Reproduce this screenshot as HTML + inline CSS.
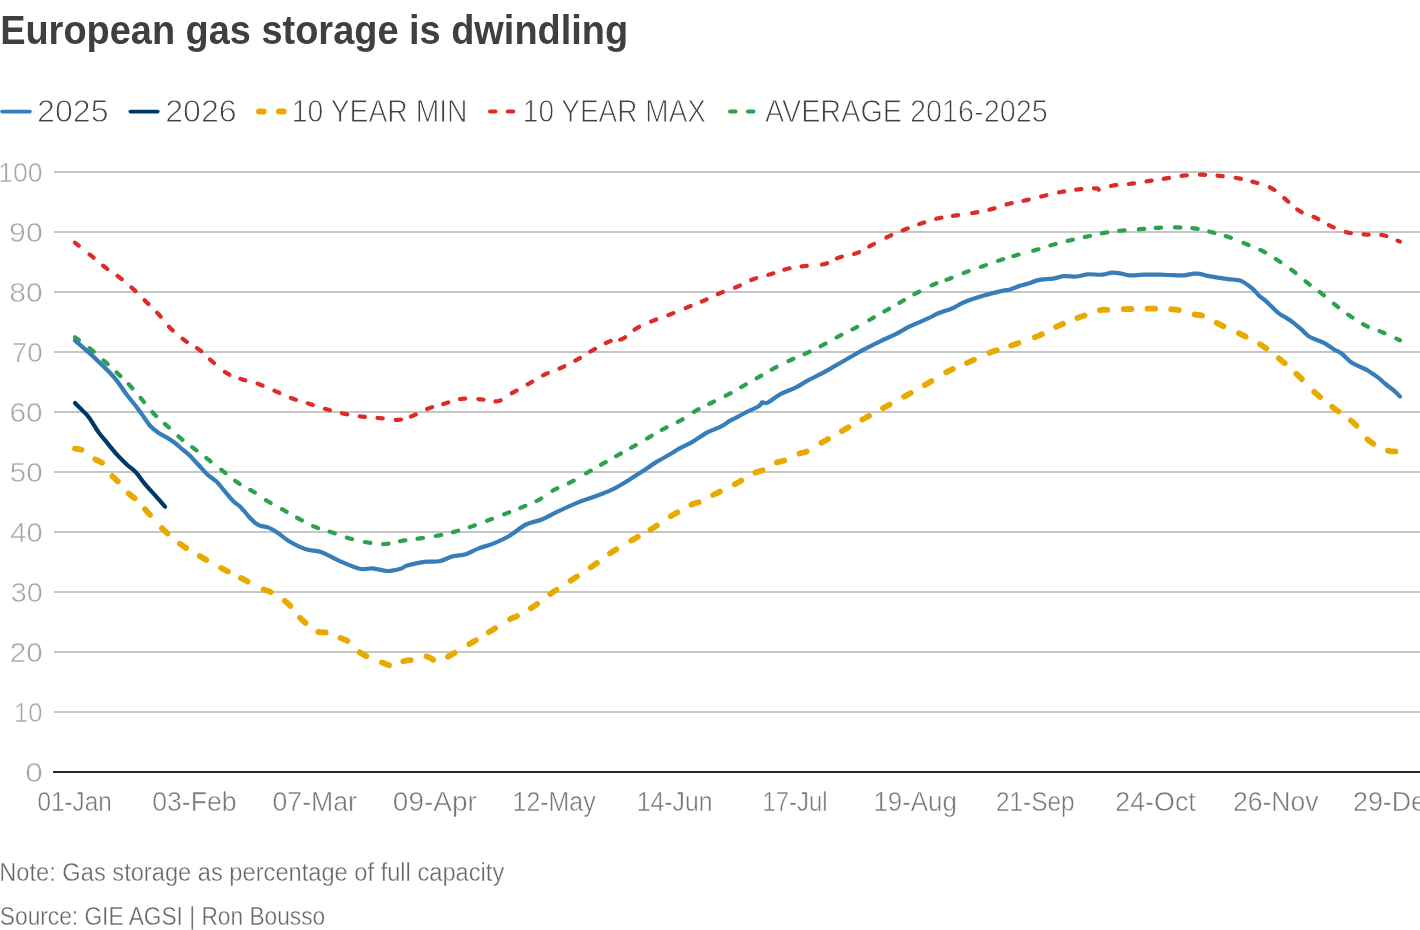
<!DOCTYPE html>
<html><head><meta charset="utf-8"><style>
html,body{margin:0;padding:0;background:#fff;}
body{width:1420px;height:930px;overflow:hidden;}
svg{display:block;will-change:transform;}
text{font-family:"Liberation Sans",sans-serif;}
</style></head><body>
<svg width="1420" height="930" viewBox="0 0 1420 930">
<rect width="1420" height="930" fill="#fff"/>
<g font-size="40" font-weight="bold" fill="#3f3f3f"><text x="0.16" y="44.00" textLength="627.97" lengthAdjust="spacingAndGlyphs">European gas storage is dwindling</text></g>
<g stroke-linecap="round" fill="none">
<line x1="2" y1="111.6" x2="30" y2="111.6" stroke="#377db9" stroke-width="3.6"/>
<line x1="130.3" y1="111.6" x2="157.8" y2="111.6" stroke="#003868" stroke-width="3.6"/>
<line x1="259" y1="111.6" x2="286" y2="111.6" stroke="#e9aa00" stroke-width="6" stroke-dasharray="4.7 15.3"/>
<line x1="490" y1="111.6" x2="514" y2="111.6" stroke="#dd2b28" stroke-width="4" stroke-dasharray="5.5 12.3"/>
<line x1="730" y1="111.6" x2="754" y2="111.6" stroke="#2ca24d" stroke-width="4" stroke-dasharray="5.6 12.3"/>
</g>
<g font-size="31.83" fill="#404040" stroke="#fff" stroke-width="0.9"><text x="37.13" y="122.25" textLength="71.46" lengthAdjust="spacingAndGlyphs">2025</text><text x="165.23" y="122.25" textLength="71.53" lengthAdjust="spacingAndGlyphs">2026</text><text x="291.80" y="122.25" textLength="175.75" lengthAdjust="spacingAndGlyphs">10 YEAR MIN</text><text x="522.82" y="122.25" textLength="183.21" lengthAdjust="spacingAndGlyphs">10 YEAR MAX</text><text x="764.89" y="122.25" textLength="282.86" lengthAdjust="spacingAndGlyphs">AVERAGE 2016-2025</text></g>
<g stroke="#c6c6c6" stroke-width="2"><line x1="54" y1="172" x2="1420" y2="172"/><line x1="54" y1="232" x2="1420" y2="232"/><line x1="54" y1="292" x2="1420" y2="292"/><line x1="54" y1="352" x2="1420" y2="352"/><line x1="54" y1="412" x2="1420" y2="412"/><line x1="54" y1="472" x2="1420" y2="472"/><line x1="54" y1="532" x2="1420" y2="532"/><line x1="54" y1="592" x2="1420" y2="592"/><line x1="54" y1="652" x2="1420" y2="652"/><line x1="54" y1="712" x2="1420" y2="712"/></g>
<line x1="53" y1="772" x2="1420" y2="772" stroke="#2a2a2a" stroke-width="2"/>
<g font-size="27.43" fill="#a6a6a6" stroke="#fff" stroke-width="0.5"><text x="25.22" y="781.85" textLength="17.57" lengthAdjust="spacingAndGlyphs">0</text><text x="14.10" y="721.85" textLength="28.45" lengthAdjust="spacingAndGlyphs">10</text><text x="9.76" y="661.85" textLength="32.95" lengthAdjust="spacingAndGlyphs">20</text><text x="10.65" y="601.85" textLength="32.02" lengthAdjust="spacingAndGlyphs">30</text><text x="10.28" y="541.85" textLength="32.41" lengthAdjust="spacingAndGlyphs">40</text><text x="9.76" y="481.85" textLength="32.94" lengthAdjust="spacingAndGlyphs">50</text><text x="9.43" y="421.85" textLength="33.29" lengthAdjust="spacingAndGlyphs">60</text><text x="11.83" y="361.85" textLength="30.80" lengthAdjust="spacingAndGlyphs">70</text><text x="9.24" y="301.85" textLength="33.48" lengthAdjust="spacingAndGlyphs">80</text><text x="9.13" y="241.85" textLength="33.60" lengthAdjust="spacingAndGlyphs">90</text><text x="-1.78" y="181.85" textLength="44.36" lengthAdjust="spacingAndGlyphs">100</text></g>
<g font-size="27.76" fill="#777777" stroke="#fff" stroke-width="0.5"><text x="37.40" y="810.85" textLength="74.33" lengthAdjust="spacingAndGlyphs">01-Jan</text><text x="152.21" y="810.85" textLength="84.36" lengthAdjust="spacingAndGlyphs">03-Feb</text><text x="272.51" y="810.85" textLength="84.48" lengthAdjust="spacingAndGlyphs">07-Mar</text><text x="392.86" y="810.85" textLength="83.96" lengthAdjust="spacingAndGlyphs">09-Apr</text><text x="512.55" y="810.85" textLength="83.05" lengthAdjust="spacingAndGlyphs">12-May</text><text x="636.76" y="810.85" textLength="75.80" lengthAdjust="spacingAndGlyphs">14-Jun</text><text x="762.53" y="810.85" textLength="65.02" lengthAdjust="spacingAndGlyphs">17-Jul</text><text x="873.38" y="810.85" textLength="83.54" lengthAdjust="spacingAndGlyphs">19-Aug</text><text x="995.92" y="810.85" textLength="78.75" lengthAdjust="spacingAndGlyphs">21-Sep</text><text x="1115.30" y="810.85" textLength="80.44" lengthAdjust="spacingAndGlyphs">24-Oct</text><text x="1232.92" y="810.85" textLength="85.52" lengthAdjust="spacingAndGlyphs">26-Nov</text><text x="1353.00" y="810.85" textLength="86.46" lengthAdjust="spacingAndGlyphs">29-Dec</text></g>
<g fill="none" stroke-linejoin="round" stroke-linecap="round">
<path d="M75.0 448.6L76.1 448.8L77.2 448.9L78.3 449.0L79.4 449.2L80.4 449.5L81.5 449.8M95.2 459.3L96.1 459.8L97.1 460.3L98.1 460.7L99.1 461.2L100.1 461.7L101.0 462.2L102.0 462.8M112.4 476.2L113.1 476.9L113.9 477.7L114.7 478.4L115.5 479.2L116.3 479.9L117.1 480.7L117.9 481.4M128.7 493.5L129.5 494.2L130.3 494.9L131.2 495.6L132.0 496.3L132.9 496.9L133.7 497.6L134.6 498.3M145.0 509.2L145.7 510.0L146.4 510.8L147.1 511.7L147.9 512.5L148.6 513.3L149.3 514.1L150.0 514.9M162.0 528.2L162.8 529.0L163.5 529.7L164.3 530.5L165.1 531.3L165.9 532.0L166.7 532.7L167.5 533.5M179.9 543.7L180.8 544.3L181.7 544.9L182.6 545.6L183.4 546.2L184.3 546.8L185.2 547.4L186.1 548.0M199.7 556.1L200.6 556.7L201.6 557.2L202.5 557.8L203.5 558.3L204.4 558.8L205.4 559.4L206.3 559.9M221.1 568.0L222.1 568.5L223.1 569.0L224.0 569.5L225.0 570.0L225.9 570.5L226.9 571.0L227.9 571.5M240.9 578.0L241.9 578.4L242.9 578.9L243.8 579.4L244.8 579.9L245.7 580.4L246.7 581.0L247.6 581.5M263.6 589.5L264.6 589.9L265.6 590.2L266.7 590.5L267.7 590.8L268.7 591.2L269.7 591.6L270.7 592.1M284.7 600.8L285.5 601.5L286.4 602.1L287.2 602.8L288.0 603.6L288.8 604.3L289.5 605.1L290.3 605.9M300.0 617.8L300.8 618.6L301.5 619.3L302.3 620.1L303.1 620.8L303.9 621.5L304.7 622.3L305.5 623.0M318.3 631.9L319.3 632.2L320.4 632.4L321.5 632.4L322.5 632.4L323.6 632.4L324.7 632.4L325.8 632.5M340.5 637.9L341.5 638.3L342.5 638.7L343.5 639.1L344.5 639.5L345.5 639.9L346.5 640.3L347.4 640.9M359.7 652.4L360.6 653.0L361.5 653.6L362.4 654.2L363.4 654.7L364.3 655.2L365.3 655.7L366.3 656.2M382.0 662.5L383.0 662.9L384.0 663.3L385.0 663.7L386.0 664.1L387.0 664.5L388.0 664.9L389.1 665.2M403.3 661.3L404.3 661.0L405.4 660.8L406.5 660.5L407.5 660.4L408.6 660.3L409.7 660.2L410.8 660.1M426.5 656.4L427.5 656.7L428.5 657.1L429.5 657.6L430.5 658.0L431.4 658.6L432.3 659.2L433.2 659.8M447.9 656.7L448.8 656.2L449.8 655.7L450.7 655.1L451.7 654.6L452.6 654.0L453.5 653.5L454.5 652.9M469.4 644.1L470.4 643.6L471.3 643.0L472.2 642.4L473.2 641.9L474.1 641.3L475.0 640.7L475.9 640.2M488.8 632.2L489.7 631.7L490.6 631.1L491.5 630.5L492.5 630.0L493.4 629.4L494.3 628.8L495.2 628.3M510.1 619.2L511.1 618.7L512.0 618.1L513.0 617.7L514.0 617.3L515.1 617.0L516.1 616.6L517.0 616.1M530.8 608.2L531.7 607.7L532.6 607.1L533.5 606.5L534.5 605.9L535.4 605.3L536.2 604.7L537.1 604.0M550.2 594.0L551.1 593.4L552.0 592.8L552.9 592.2L553.7 591.6L554.6 591.0L555.6 590.4L556.5 589.8M570.6 580.6L571.5 580.1L572.4 579.5L573.3 578.9L574.3 578.3L575.2 577.7L576.1 577.1L577.0 576.5M590.7 567.4L591.6 566.8L592.5 566.2L593.4 565.5L594.2 564.9L595.1 564.3L596.0 563.6L596.9 563.0M609.9 553.4L610.8 552.8L611.7 552.2L612.6 551.6L613.6 551.0L614.5 550.4L615.4 549.9L616.3 549.3M631.2 540.7L632.1 540.1L633.1 539.6L634.0 539.1L635.0 538.5L635.9 538.0L636.8 537.4L637.8 536.9M650.5 529.6L651.4 529.1L652.3 528.5L653.2 527.9L654.2 527.3L655.1 526.7L656.0 526.1L656.9 525.5M670.8 516.1L671.8 515.6L672.7 515.0L673.6 514.5L674.6 513.9L675.5 513.4L676.5 512.9L677.4 512.3M691.5 504.7L692.5 504.2L693.5 503.8L694.5 503.4L695.5 503.0L696.6 502.9L697.7 502.7L698.7 502.3M713.1 495.0L714.1 494.5L715.0 494.0L716.0 493.6L717.0 493.1L718.0 492.6L718.9 492.1L719.9 491.6M734.7 484.3L735.6 483.8L736.6 483.3L737.5 482.8L738.5 482.2L739.4 481.7L740.4 481.2L741.3 480.6M755.5 472.7L756.4 472.3L757.5 471.9L758.5 471.5L759.5 471.2L760.6 471.0L761.6 470.6L762.6 470.2M776.9 462.5L777.9 462.1L778.9 461.8L780.0 461.6L781.0 461.3L782.1 461.1L783.1 460.8L784.2 460.4M799.4 453.6L800.5 453.2L801.5 452.9L802.6 452.7L803.6 452.5L804.7 452.2L805.7 451.9L806.7 451.5M821.4 442.8L822.4 442.3L823.3 441.8L824.2 441.2L825.2 440.7L826.1 440.1L827.0 439.6L828.0 439.0M841.9 431.0L842.8 430.5L843.8 430.0L844.7 429.4L845.7 428.9L846.6 428.3L847.6 427.8L848.5 427.3M862.4 419.5L863.3 419.0L864.3 418.5L865.2 418.0L866.2 417.4L867.1 416.9L868.1 416.4L869.0 415.9M883.0 408.2L883.9 407.7L884.9 407.2L885.8 406.7L886.8 406.2L887.7 405.6L888.7 405.1L889.6 404.6M904.1 396.7L905.0 396.1L906.0 395.6L906.9 395.1L907.9 394.6L908.8 394.0L909.8 393.5L910.7 393.0M924.9 385.1L925.9 384.5L926.8 384.0L927.7 383.4L928.7 382.9L929.6 382.3L930.5 381.7L931.4 381.1M946.1 372.3L947.1 371.8L948.0 371.3L949.0 370.8L950.0 370.3L951.0 369.9L952.0 369.4L952.9 369.0M967.0 362.9L968.0 362.5L969.0 362.0L970.0 361.6L971.0 361.1L972.0 360.7L973.0 360.2L973.9 359.7M989.5 352.7L990.6 352.3L991.6 352.0L992.6 351.6L993.6 351.2L994.6 350.9L995.7 350.5L996.7 350.2M1011.2 345.6L1012.2 345.2L1013.3 344.9L1014.3 344.5L1015.3 344.2L1016.3 343.8L1017.4 343.5L1018.4 343.1M1034.9 337.3L1035.9 336.9L1036.9 336.5L1037.9 336.0L1038.9 335.6L1039.9 335.2L1040.9 334.7L1041.9 334.3M1056.1 326.9L1057.0 326.5L1058.0 326.0L1059.0 325.5L1060.0 325.1L1061.0 324.6L1062.0 324.2L1063.0 323.8M1077.4 318.0L1078.5 317.6L1079.5 317.3L1080.5 316.9L1081.5 316.5L1082.5 316.1L1083.5 315.8L1084.6 315.4M1099.8 310.3L1100.8 310.1L1101.9 309.8L1103.0 309.6L1104.0 309.7L1105.1 309.8L1106.2 309.8L1107.3 309.8M1123.8 309.2L1124.9 309.1L1126.0 309.1L1127.1 309.1L1128.1 309.0L1129.2 309.0L1130.3 309.0L1131.4 309.0M1147.5 308.7L1148.6 308.7L1149.7 308.7L1150.8 308.7L1151.8 308.7L1152.9 308.7L1154.0 308.7L1155.1 308.7M1171.2 309.2L1172.3 309.3L1173.4 309.4L1174.5 309.5L1175.5 309.6L1176.6 309.7L1177.7 309.9L1178.8 310.1M1194.6 314.4L1195.6 314.7L1196.7 314.8L1197.8 315.0L1198.8 315.0L1199.9 315.1L1201.0 315.2L1202.1 315.5M1216.7 322.9L1217.7 323.4L1218.6 323.9L1219.6 324.3L1220.6 324.8L1221.6 325.3L1222.6 325.7L1223.5 326.2M1238.8 333.2L1239.8 333.7L1240.7 334.2L1241.7 334.7L1242.7 335.1L1243.7 335.6L1244.6 336.1L1245.6 336.6M1260.0 344.2L1260.9 344.8L1261.8 345.3L1262.7 345.9L1263.7 346.5L1264.5 347.1L1265.4 347.8L1266.3 348.4M1278.9 358.4L1279.7 359.1L1280.6 359.8L1281.4 360.5L1282.2 361.2L1283.0 361.9L1283.9 362.6L1284.7 363.3M1296.3 373.8L1297.1 374.5L1297.9 375.3L1298.7 376.0L1299.5 376.8L1300.3 377.5L1301.0 378.3L1301.8 379.1M1314.3 391.9L1315.1 392.7L1315.9 393.4L1316.7 394.1L1317.5 394.8L1318.3 395.5L1319.1 396.3L1320.0 397.0M1332.3 406.9L1333.2 407.5L1334.0 408.2L1334.9 408.9L1335.7 409.5L1336.6 410.2L1337.5 410.8L1338.4 411.4M1350.9 420.5L1351.8 421.2L1352.6 421.9L1353.4 422.6L1354.2 423.4L1355.0 424.1L1355.7 424.9L1356.4 425.7M1367.4 439.2L1368.2 439.9L1369.0 440.7L1369.9 441.3L1370.7 442.0L1371.6 442.6L1372.5 443.2L1373.4 443.8M1387.9 450.6L1388.9 450.9L1390.0 451.1L1391.1 451.3L1392.1 451.4L1393.2 451.4L1394.3 451.4L1395.4 451.4" stroke="#e9aa00" stroke-width="5.8"/>
<path d="M75.0 242.6L75.9 243.3L76.8 244.1L77.7 244.8L78.7 245.6M89.5 254.4L90.4 255.0L91.2 255.7L92.0 256.4L92.8 257.0L93.6 257.7M103.1 265.7L103.9 266.3L104.8 267.0L105.6 267.6L106.5 268.3L107.3 268.9M117.5 276.0L118.3 276.6L119.2 277.2L120.0 277.9L120.9 278.5L121.7 279.2M131.5 287.5L132.3 288.2L133.1 288.9L133.9 289.6L134.7 290.3L135.4 291.1M144.6 300.3L145.4 301.1L146.1 301.8L146.9 302.6L147.6 303.3L148.4 304.1M157.1 312.7L157.8 313.4L158.5 314.2L159.3 315.0L160.0 315.8L160.7 316.6M169.0 326.7L169.7 327.5L170.4 328.2L171.2 329.0L171.9 329.7L172.7 330.4M182.6 338.8L183.4 339.4L184.3 340.1L185.1 340.7L186.0 341.3L186.9 341.9M196.9 348.1L197.8 348.7L198.7 349.3L199.5 349.9L200.4 350.5L201.2 351.2M210.0 359.5L210.8 360.2L211.6 360.9L212.4 361.6L213.2 362.3L214.0 363.0M224.9 372.0L225.8 372.6L226.7 373.2L227.6 373.7L228.5 374.2L229.4 374.7M240.3 378.8L241.3 379.1L242.3 379.4L243.3 379.8L244.3 380.1L245.3 380.3M257.6 383.6L258.6 384.0L259.6 384.4L260.6 384.8L261.6 385.2L262.6 385.6M274.5 390.8L275.4 391.2L276.4 391.6L277.4 392.0L278.4 392.4L279.3 392.9M290.9 397.9L291.9 398.3L292.9 398.7L293.9 399.0L294.9 399.4L295.9 399.7M307.7 403.3L308.7 403.6L309.7 403.9L310.7 404.3L311.7 404.6L312.7 404.9M324.9 408.8L325.9 409.1L326.9 409.4L327.9 409.6L328.9 409.9L330.0 410.2M342.0 413.2L343.0 413.5L344.1 413.7L345.1 413.9L346.2 414.1L347.2 414.3M359.7 416.3L360.7 416.5L361.8 416.6L362.8 416.7L363.9 416.8L364.9 416.9M377.5 417.9L378.5 418.0L379.6 418.1L380.6 418.1L381.7 418.3L382.7 418.4M395.8 419.9L396.8 419.9L397.9 419.8L398.9 419.8L400.0 419.6L401.0 419.5M410.9 416.5L411.9 416.1L412.9 415.7L413.9 415.3L414.9 414.9L415.8 414.5M427.1 409.0L428.1 408.6L429.1 408.2L430.1 407.8L431.1 407.5L432.1 407.1M443.2 404.0L444.2 403.7L445.2 403.4L446.2 403.0L447.2 402.7L448.2 402.4M460.0 399.1L461.0 399.0L462.1 398.8L463.1 398.7L464.2 398.7L465.2 398.6M478.3 399.2L479.3 399.3L480.4 399.4L481.4 399.4L482.5 399.5L483.5 399.7M495.5 401.4L496.5 401.3L497.6 401.2L498.6 401.0L499.6 400.7L500.6 400.3M511.9 393.2L512.8 392.7L513.7 392.1L514.7 391.6L515.6 391.1L516.5 390.6M527.6 384.3L528.5 383.8L529.4 383.3L530.4 382.8L531.3 382.2L532.2 381.7M543.0 375.4L544.0 374.9L544.9 374.4L545.9 374.0L546.8 373.5L547.8 373.1M559.5 368.5L560.4 368.1L561.4 367.6L562.4 367.2L563.3 366.8L564.3 366.3M575.3 360.6L576.2 360.1L577.1 359.6L578.1 359.1L579.0 358.6L579.9 358.0M590.4 351.6L591.3 351.0L592.2 350.5L593.2 349.9L594.1 349.4L595.0 348.9M605.8 343.1L606.7 342.6L607.7 342.2L608.7 341.8L609.7 341.4L610.7 341.0M620.3 339.6L621.3 339.3L622.3 338.9L623.3 338.5L624.2 337.9L625.1 337.3M634.6 329.7L635.5 329.0L636.4 328.4L637.2 327.8L638.2 327.3L639.1 326.8M651.2 321.5L652.2 321.1L653.2 320.7L654.2 320.3L655.2 319.9L656.2 319.5M668.4 315.0L669.4 314.7L670.4 314.3L671.4 313.9L672.4 313.5L673.4 313.1M685.7 308.0L686.6 307.6L687.6 307.2L688.6 306.8L689.6 306.4L690.6 306.0M701.8 301.5L702.7 301.1L703.7 300.7L704.7 300.3L705.7 299.9L706.6 299.4M717.9 294.1L718.8 293.6L719.8 293.2L720.8 292.8L721.8 292.4L722.8 292.0M735.0 287.6L736.0 287.2L737.0 286.8L738.0 286.4L739.0 286.0L739.9 285.5M751.2 280.0L752.2 279.6L753.2 279.2L754.2 278.8L755.2 278.5L756.2 278.1M768.4 274.8L769.4 274.5L770.4 274.3L771.4 273.9L772.4 273.6L773.4 273.3M784.4 269.6L785.5 269.3L786.5 269.0L787.5 268.8L788.5 268.5L789.6 268.3M801.6 266.4L802.6 266.3L803.7 266.2L804.7 266.0L805.8 265.9L806.8 265.8M822.0 264.5L823.0 264.3L824.1 264.1L825.1 263.9L826.1 263.6L827.1 263.2M836.9 258.4L837.9 258.0L838.9 257.6L839.9 257.2L840.9 256.9L841.9 256.6M854.1 253.9L855.1 253.6L856.1 253.3L857.1 252.9L858.1 252.5L859.0 252.1M869.3 246.5L870.2 245.9L871.1 245.4L872.1 245.0L873.0 244.5L873.9 244.0M886.4 237.5L887.4 237.0L888.3 236.5L889.3 236.1L890.2 235.6L891.2 235.2M902.7 230.4L903.7 230.0L904.7 229.6L905.7 229.2L906.7 228.8L907.7 228.4M919.2 224.1L920.2 223.7L921.2 223.4L922.2 223.0L923.2 222.7L924.2 222.4M936.2 218.8L937.3 218.5L938.3 218.3L939.3 218.1L940.4 217.9L941.4 217.7M952.9 215.9L953.9 215.7L955.0 215.6L956.0 215.4L957.1 215.3L958.1 215.1M972.2 213.1L973.2 213.0L974.3 212.8L975.3 212.6L976.4 212.4L977.4 212.2M989.4 209.7L990.5 209.4L991.5 209.1L992.5 208.9L993.5 208.6L994.6 208.3M1006.6 204.4L1007.7 204.1L1008.7 203.8L1009.7 203.6L1010.7 203.3L1011.8 203.1M1023.5 200.8L1024.5 200.6L1025.6 200.4L1026.6 200.1L1027.6 199.9L1028.7 199.6M1041.2 196.5L1042.3 196.2L1043.3 196.0L1044.3 195.7L1045.3 195.5L1046.4 195.2M1059.0 192.4L1060.0 192.2L1061.1 192.0L1062.1 191.8L1063.2 191.6L1064.2 191.4M1076.2 189.7L1077.2 189.6L1078.3 189.5L1079.3 189.3L1080.4 189.2L1081.4 189.1M1093.9 188.3L1094.9 188.3L1096.0 188.3L1097.0 188.4L1098.0 188.8L1098.7 189.6M1111.1 186.0L1112.1 185.7L1113.2 185.5L1114.2 185.3L1115.3 185.2L1116.3 185.0M1128.9 184.0L1129.9 183.9L1131.0 183.7L1132.0 183.6L1133.1 183.4L1134.1 183.3M1146.5 181.4L1147.5 181.2L1148.6 181.1L1149.6 180.9L1150.7 180.7L1151.7 180.6M1163.7 178.8L1164.7 178.6L1165.8 178.4L1166.8 178.3L1167.9 178.1L1168.9 177.9M1181.6 175.8L1182.6 175.7L1183.7 175.6L1184.7 175.5L1185.8 175.4L1186.8 175.3M1199.9 174.7L1200.9 174.7L1202.0 174.7L1203.0 174.7L1204.1 174.8L1205.1 174.8M1217.5 175.7L1218.5 175.8L1219.6 175.9L1220.6 176.0L1221.7 176.1L1222.7 176.2M1235.7 177.8L1236.7 178.0L1237.8 178.2L1238.8 178.4L1239.9 178.6L1240.9 178.8M1252.3 181.6L1253.4 181.9L1254.4 182.2L1255.4 182.4L1256.4 182.7L1257.4 183.0M1269.9 187.3L1270.8 187.8L1271.7 188.3L1272.6 188.9L1273.5 189.5L1274.4 190.1M1284.3 198.2L1285.1 198.9L1285.9 199.6L1286.7 200.3L1287.5 201.0L1288.3 201.7M1297.2 209.4L1298.1 210.0L1299.0 210.6L1299.9 211.2L1300.8 211.7L1301.7 212.2M1313.5 216.8L1314.5 217.2L1315.4 217.7L1316.4 218.1L1317.3 218.7L1318.2 219.2M1328.9 225.2L1329.9 225.7L1330.8 226.1L1331.8 226.6L1332.7 227.0L1333.7 227.4M1345.7 232.0L1346.8 232.3L1347.8 232.6L1348.8 232.8L1349.9 233.0L1350.9 233.2M1363.5 234.4L1364.5 234.4L1365.6 234.5L1366.6 234.6L1367.7 234.6L1368.7 234.6M1381.2 234.9L1382.2 235.0L1383.3 235.2L1384.3 235.4L1385.3 235.7L1386.4 236.0M1397.7 240.7L1398.8 241.1L1399.9 241.6" stroke="#dd2b28" stroke-width="4.2"/>
<path d="M75.0 337.2L75.9 337.9L76.9 338.6L77.8 339.3L78.8 340.0M89.5 348.1L90.4 348.8L91.2 349.5L92.0 350.2L92.8 350.9L93.7 351.6M103.6 360.5L104.4 361.2L105.2 361.9L106.0 362.6L106.8 363.3L107.6 364.1M116.6 372.4L117.3 373.2L118.1 373.9L118.9 374.7L119.7 375.4L120.4 376.1M128.7 384.3L129.5 385.1L130.2 385.9L131.0 386.7L131.7 387.5L132.4 388.3M140.6 397.9L141.3 398.8L142.0 399.6L142.6 400.4L143.3 401.2L144.0 402.1M152.4 412.1L153.1 412.9L153.8 413.7L154.6 414.5L155.3 415.2L156.1 416.0M164.9 423.9L165.7 424.6L166.5 425.3L167.3 426.0L168.1 426.7L168.9 427.5M178.4 436.3L179.2 437.0L180.0 437.8L180.8 438.4L181.6 439.1L182.5 439.8M192.2 447.2L193.1 447.8L194.0 448.5L194.8 449.1L195.7 449.8L196.5 450.4M206.3 457.9L207.1 458.6L208.0 459.3L208.8 459.9L209.7 460.6L210.5 461.3M221.3 469.7L222.1 470.4L223.0 471.1L223.8 471.7L224.7 472.4L225.5 473.1M235.2 480.8L236.1 481.5L237.0 482.1L237.8 482.7L238.7 483.4L239.6 483.9M250.2 489.9L251.1 490.4L252.0 490.9L253.0 491.5L253.9 492.0L254.8 492.6M266.0 500.2L266.9 500.7L267.8 501.3L268.8 501.8L269.7 502.4L270.6 502.9M282.0 509.2L283.0 509.7L283.9 510.2L284.9 510.8L285.8 511.3L286.7 511.8M297.1 517.8L298.1 518.3L299.0 518.8L300.0 519.4L300.9 519.9L301.9 520.4M313.1 526.1L314.1 526.5L315.1 526.9L316.1 527.3L317.1 527.7L318.1 528.1M329.6 531.6L330.7 532.0L331.7 532.3L332.7 532.6L333.7 533.0L334.8 533.4M346.8 537.6L347.8 537.9L348.9 538.2L349.9 538.5L351.0 538.8L352.0 539.1M364.9 542.0L366.0 542.2L367.1 542.4L368.1 542.5L369.2 542.7L370.3 542.9M383.2 544.1L384.3 544.0L385.4 544.0L386.4 543.9L387.5 543.8L388.6 543.7M400.0 541.2L401.1 541.0L402.2 540.8L403.2 540.6L404.3 540.4L405.4 540.3M417.6 538.7L418.7 538.6L419.8 538.4L420.8 538.3L421.9 538.1L423.0 538.0M435.9 536.0L437.0 535.8L438.1 535.6L439.1 535.4L440.2 535.2L441.2 535.0M452.9 532.2L453.9 531.9L455.0 531.6L456.0 531.3L457.1 531.0L458.1 530.7M469.7 527.1L470.8 526.7L471.8 526.4L472.8 526.0L473.8 525.7L474.8 525.3M487.0 520.8L488.0 520.4L489.0 520.0L490.0 519.6L491.0 519.2L492.0 518.9M504.2 514.3L505.2 513.9L506.2 513.5L507.2 513.1L508.2 512.7L509.2 512.3M520.3 507.9L521.3 507.5L522.3 507.1L523.3 506.7L524.3 506.3L525.3 505.9M536.5 501.0L537.5 500.6L538.4 500.1L539.4 499.5L540.3 499.0L541.2 498.4M552.6 490.8L553.6 490.2L554.5 489.7L555.5 489.2L556.4 488.7L557.4 488.3M568.8 483.2L569.8 482.7L570.7 482.2L571.7 481.7L572.6 481.2L573.6 480.7M586.1 473.4L587.0 472.8L587.9 472.3L588.9 471.7L589.8 471.2L590.7 470.7M601.1 464.7L602.0 464.2L602.9 463.7L603.9 463.1L604.8 462.6L605.7 462.1M616.1 456.1L617.1 455.6L618.0 455.1L619.0 454.5L619.9 454.0L620.9 453.5M631.1 447.8L632.1 447.2L633.0 446.7L634.0 446.2L634.9 445.7L635.8 445.1M647.1 438.5L648.0 437.9L648.9 437.4L649.9 436.8L650.8 436.3L651.7 435.7M661.8 429.9L662.8 429.4L663.7 428.9L664.7 428.4L665.6 427.9L666.6 427.4M677.8 421.9L678.8 421.4L679.7 420.9L680.7 420.4L681.6 419.9L682.6 419.3M693.9 411.9L694.8 411.3L695.7 410.8L696.7 410.2L697.6 409.7L698.6 409.2M709.2 403.9L710.1 403.5L711.1 403.0L712.1 402.5L713.1 402.0L714.0 401.5M725.8 395.7L726.8 395.2L727.7 394.7L728.7 394.2L729.6 393.7L730.6 393.2M741.2 387.1L742.1 386.6L743.0 386.1L744.0 385.5L744.9 385.0L745.8 384.4M756.7 378.2L757.6 377.7L758.5 377.2L759.5 376.6L760.4 376.1L761.3 375.6M771.7 369.6L772.7 369.1L773.6 368.6L774.6 368.0L775.5 367.5L776.5 367.0M788.5 361.0L789.4 360.6L790.4 360.1L791.4 359.7L792.4 359.2L793.4 358.8M804.6 354.0L805.6 353.5L806.6 353.1L807.6 352.6L808.6 352.2L809.5 351.7M820.7 346.2L821.7 345.7L822.6 345.2L823.6 344.7L824.5 344.2L825.5 343.7M836.6 337.4L837.6 336.9L838.5 336.4L839.5 335.9L840.4 335.4L841.4 334.9M852.4 329.4L853.4 328.9L854.3 328.4L855.3 327.9L856.2 327.4L857.2 326.9M869.3 320.0L870.2 319.5L871.1 319.0L872.1 318.4L873.0 317.9L873.9 317.4M884.4 311.4L885.3 310.9L886.2 310.4L887.2 309.8L888.1 309.3L889.0 308.8M899.4 302.8L900.3 302.3L901.2 301.8L902.2 301.2L903.1 300.7L904.0 300.2M914.4 294.2L915.4 293.7L916.3 293.2L917.3 292.6L918.2 292.1L919.2 291.6M931.5 285.4L932.5 285.0L933.5 284.5L934.5 284.1L935.5 283.7L936.5 283.3M946.5 279.8L947.5 279.5L948.5 279.1L949.5 278.7L950.5 278.3L951.5 277.9M963.7 273.0L964.7 272.6L965.7 272.2L966.7 271.8L967.7 271.4L968.7 271.1M980.8 266.9L981.9 266.5L982.9 266.2L983.9 265.8L984.9 265.5L985.9 265.1M998.0 260.9L999.1 260.5L1000.1 260.2L1001.1 259.8L1002.1 259.5L1003.2 259.2M1013.4 256.1L1014.4 255.8L1015.5 255.5L1016.5 255.2L1017.6 254.9L1018.6 254.6M1033.2 250.7L1034.2 250.4L1035.3 250.1L1036.3 249.8L1037.4 249.5L1038.4 249.2M1050.4 245.4L1051.4 245.1L1052.5 244.7L1053.5 244.5L1054.6 244.2L1055.6 243.9M1067.6 240.9L1068.6 240.7L1069.7 240.4L1070.7 240.2L1071.8 239.9L1072.8 239.7M1084.8 237.1L1085.8 236.8L1086.9 236.6L1087.9 236.4L1089.0 236.2L1090.0 235.9M1101.9 233.3L1103.0 233.1L1104.1 232.9L1105.1 232.7L1106.2 232.5L1107.3 232.4M1119.1 230.9L1120.2 230.8L1121.3 230.7L1122.3 230.5L1123.4 230.4L1124.5 230.3M1138.8 229.3L1139.9 229.2L1141.0 229.1L1142.0 229.0L1143.1 228.9L1144.2 228.9M1155.7 227.9L1156.8 227.9L1157.9 227.8L1158.9 227.8L1160.0 227.7L1161.1 227.7M1175.0 227.4L1176.1 227.4L1177.2 227.4L1178.2 227.4L1179.3 227.4L1180.4 227.5M1192.3 228.2L1193.4 228.3L1194.5 228.4L1195.5 228.6L1196.6 228.7L1197.7 228.9M1209.2 231.5L1210.2 231.8L1211.3 232.1L1212.3 232.3L1213.4 232.6L1214.4 232.9M1225.8 236.1L1226.9 236.4L1227.9 236.7L1228.9 237.1L1229.9 237.4L1230.9 237.8M1243.6 243.0L1244.6 243.4L1245.6 243.8L1246.6 244.2L1247.6 244.6L1248.6 245.0M1260.3 249.9L1261.3 250.4L1262.2 250.9L1263.2 251.3L1264.1 251.9L1265.1 252.4M1275.8 259.0L1276.7 259.6L1277.6 260.2L1278.6 260.8L1279.5 261.4L1280.4 262.0M1291.2 269.6L1292.1 270.2L1293.0 270.9L1293.8 271.5L1294.7 272.2L1295.5 272.9M1305.5 281.3L1306.3 282.0L1307.2 282.7L1308.0 283.3L1308.9 284.0L1309.7 284.7M1319.7 292.0L1320.5 292.7L1321.4 293.4L1322.2 294.0L1323.1 294.7L1323.9 295.4M1333.9 303.8L1334.7 304.5L1335.6 305.2L1336.4 305.8L1337.3 306.5L1338.1 307.2M1348.0 314.6L1348.9 315.2L1349.8 315.8L1350.6 316.4L1351.5 317.0L1352.4 317.6M1363.0 324.2L1364.0 324.7L1364.9 325.3L1365.9 325.7L1366.9 326.2L1367.8 326.7M1379.5 331.1L1380.5 331.5L1381.5 331.9L1382.5 332.3L1383.5 332.8L1384.5 333.2M1396.4 338.7L1397.5 339.2L1398.7 339.8L1399.9 340.3" stroke="#2ca24d" stroke-width="4.2"/>
<path d="M75.0 340.4C78.2 343.3 87.9 351.5 94.4 357.6C100.9 363.7 108.4 370.8 113.8 377.0C119.2 383.2 123.1 389.9 127.0 395.0C130.9 400.1 134.5 404.2 137.3 407.9C140.1 411.6 141.7 414.0 143.8 417.0C146.0 420.0 147.8 423.4 150.2 426.0C152.6 428.6 155.2 430.5 158.0 432.4C160.8 434.3 164.2 435.9 167.0 437.6C169.8 439.3 172.3 441.0 174.7 442.8C177.1 444.6 179.1 446.5 181.5 448.6C183.9 450.7 186.6 452.5 189.4 455.2C192.2 457.9 195.4 461.6 198.4 464.8C201.4 468.0 204.4 471.7 207.4 474.5C210.4 477.3 213.7 478.9 216.5 481.6C219.3 484.3 221.4 487.4 224.2 490.6C227.0 493.8 230.4 498.2 233.2 501.0C236.0 503.8 238.4 504.8 241.0 507.4C243.6 510.0 246.3 513.9 248.7 516.5C251.1 519.1 253.3 521.4 255.2 522.9C257.1 524.4 258.1 525.0 260.3 525.7C262.5 526.5 265.1 526.1 268.1 527.4C271.1 528.6 275.0 530.9 278.4 533.2C281.8 535.5 284.1 538.3 288.7 541.0C293.3 543.7 300.5 547.5 305.9 549.3C311.3 551.1 315.3 550.0 321.0 552.0C326.7 554.0 333.9 558.5 340.3 561.3C346.8 564.1 354.3 567.6 359.7 568.8C365.1 570.0 368.0 568.0 372.6 568.4C377.2 568.8 383.0 570.9 387.6 571.0C392.2 571.1 397.3 569.7 400.5 568.8C403.7 567.9 403.1 566.8 407.0 565.6C410.9 564.5 418.8 562.6 424.2 561.9C429.6 561.2 434.4 562.2 439.2 561.3C444.0 560.4 448.5 557.5 452.9 556.3C457.3 555.1 461.5 555.5 465.8 554.2C470.1 552.9 474.0 550.2 478.7 548.4C483.4 546.6 488.8 545.4 493.8 543.4C498.8 541.4 503.4 539.4 508.8 536.3C514.2 533.1 520.6 527.2 526.0 524.5C531.4 521.8 536.1 521.8 541.1 519.8C546.1 517.8 550.0 515.2 556.1 512.3C562.2 509.4 571.2 505.2 577.6 502.6C584.0 500.0 589.1 498.6 594.8 496.5C600.5 494.4 606.6 492.3 612.0 489.7C617.4 487.1 622.0 484.2 627.1 481.1C632.2 478.0 638.1 474.1 642.9 471.0C647.7 467.9 651.1 465.3 655.8 462.4C660.5 459.5 666.9 456.1 670.9 453.8C674.9 451.5 675.9 450.4 679.5 448.4C683.1 446.4 687.8 444.6 692.4 441.9C697.0 439.2 702.8 434.8 707.4 432.3C712.0 429.8 716.3 428.9 720.3 426.9C724.2 424.9 727.1 422.4 731.1 420.2C735.1 418.0 739.4 415.9 744.0 413.5C748.6 411.1 756.0 407.8 759.0 405.9C762.0 404.0 760.9 402.8 762.3 402.3C763.7 401.8 764.6 404.1 767.6 402.7C770.6 401.3 775.8 396.6 780.5 394.1C785.2 391.6 790.9 389.9 795.6 387.6C800.3 385.3 804.2 382.4 808.5 380.1C812.8 377.8 817.3 375.9 821.4 373.7C825.5 371.5 828.5 369.6 832.9 367.1C837.3 364.6 843.0 361.4 848.0 358.5C853.0 355.6 857.6 352.8 863.0 349.9C868.4 347.0 874.8 343.9 880.2 341.3C885.6 338.7 890.3 336.9 895.3 334.4C900.3 331.9 904.9 328.8 910.3 326.2C915.7 323.6 922.8 320.8 927.5 318.7C932.2 316.6 934.0 315.1 938.3 313.3C942.6 311.5 949.0 309.9 953.3 308.0C957.6 306.1 958.7 304.3 964.1 302.2C969.5 300.1 979.2 297.0 985.6 295.1C992.0 293.2 998.7 291.8 1002.8 290.8C1006.9 289.9 1007.0 290.3 1010.0 289.4C1013.0 288.5 1017.6 286.5 1020.8 285.5C1024.0 284.5 1026.5 284.2 1029.4 283.3C1032.3 282.4 1034.1 280.9 1038.0 280.1C1041.9 279.3 1048.7 279.2 1053.0 278.6C1057.3 278.0 1059.8 276.6 1063.8 276.2C1067.8 275.8 1072.8 276.8 1076.7 276.5C1080.6 276.2 1083.1 274.6 1087.4 274.3C1091.7 274.0 1098.4 275.0 1102.5 274.7C1106.6 274.4 1109.0 272.8 1112.2 272.6C1115.4 272.4 1118.8 273.2 1121.8 273.7C1124.8 274.2 1126.8 275.2 1130.4 275.4C1134.0 275.6 1138.3 274.8 1143.3 274.7C1148.3 274.6 1155.5 274.6 1160.5 274.7C1165.5 274.8 1169.4 275.1 1173.4 275.2C1177.4 275.3 1180.9 275.6 1184.3 275.3C1187.7 275.0 1191.2 273.8 1193.8 273.6C1196.4 273.4 1197.5 273.5 1199.8 273.9C1202.1 274.3 1204.5 275.3 1207.5 275.9C1210.5 276.5 1214.3 277.1 1217.8 277.6C1221.2 278.1 1224.5 278.6 1228.2 279.1C1231.9 279.6 1237.1 279.7 1240.2 280.6C1243.3 281.5 1244.9 283.1 1247.1 284.5C1249.2 285.9 1251.1 287.3 1253.1 289.2C1255.1 291.1 1257.1 293.8 1259.1 295.7C1261.1 297.6 1263.0 298.5 1265.2 300.4C1267.4 302.3 1269.6 304.6 1272.0 306.9C1274.4 309.2 1277.3 312.3 1279.8 314.2C1282.2 316.1 1284.4 316.7 1286.7 318.1C1289.0 319.5 1291.2 321.0 1293.5 322.8C1295.8 324.6 1298.3 326.7 1300.8 328.9C1303.3 331.1 1306.2 334.4 1308.5 336.1C1310.8 337.8 1311.8 337.9 1314.4 339.0C1317.0 340.1 1320.8 341.2 1324.0 342.9C1327.2 344.6 1330.8 347.4 1333.7 349.2C1336.6 351.0 1338.6 351.3 1341.5 353.5C1344.4 355.7 1347.9 360.0 1351.1 362.3C1354.3 364.6 1357.9 365.7 1360.8 367.1C1363.7 368.6 1365.6 369.2 1368.5 371.0C1371.4 372.8 1375.3 375.4 1378.2 377.7C1381.1 379.9 1383.4 382.4 1386.0 384.5C1388.6 386.6 1391.4 388.3 1393.7 390.3C1396.0 392.3 1399.0 395.6 1400.0 396.6" stroke="#377db9" stroke-width="4.2"/>
<path d="M75.0 403.0C76.3 404.4 80.7 408.6 83.1 411.1C85.5 413.6 86.9 414.6 89.5 418.2C92.1 421.8 95.6 428.2 98.6 432.4C101.6 436.6 104.4 439.5 107.6 443.4C110.8 447.3 114.7 452.1 117.9 455.7C121.1 459.2 124.1 462.0 127.0 464.7C129.9 467.4 132.4 468.6 135.4 471.8C138.4 475.0 141.7 480.1 145.0 484.1C148.3 488.1 152.1 491.9 155.4 495.7C158.8 499.5 163.5 504.9 165.1 506.7" stroke="#003868" stroke-width="4.2"/>
</g>
<g font-size="26.45" fill="#666666" stroke="#fff" stroke-width="0.4"><text x="-0.79" y="880.60" textLength="505.04" lengthAdjust="spacingAndGlyphs">Note: Gas storage as percentage of full capacity</text><text x="-0.13" y="924.80" textLength="325.28" lengthAdjust="spacingAndGlyphs">Source: GIE AGSI | Ron Bousso</text></g>
</svg>
</body></html>
